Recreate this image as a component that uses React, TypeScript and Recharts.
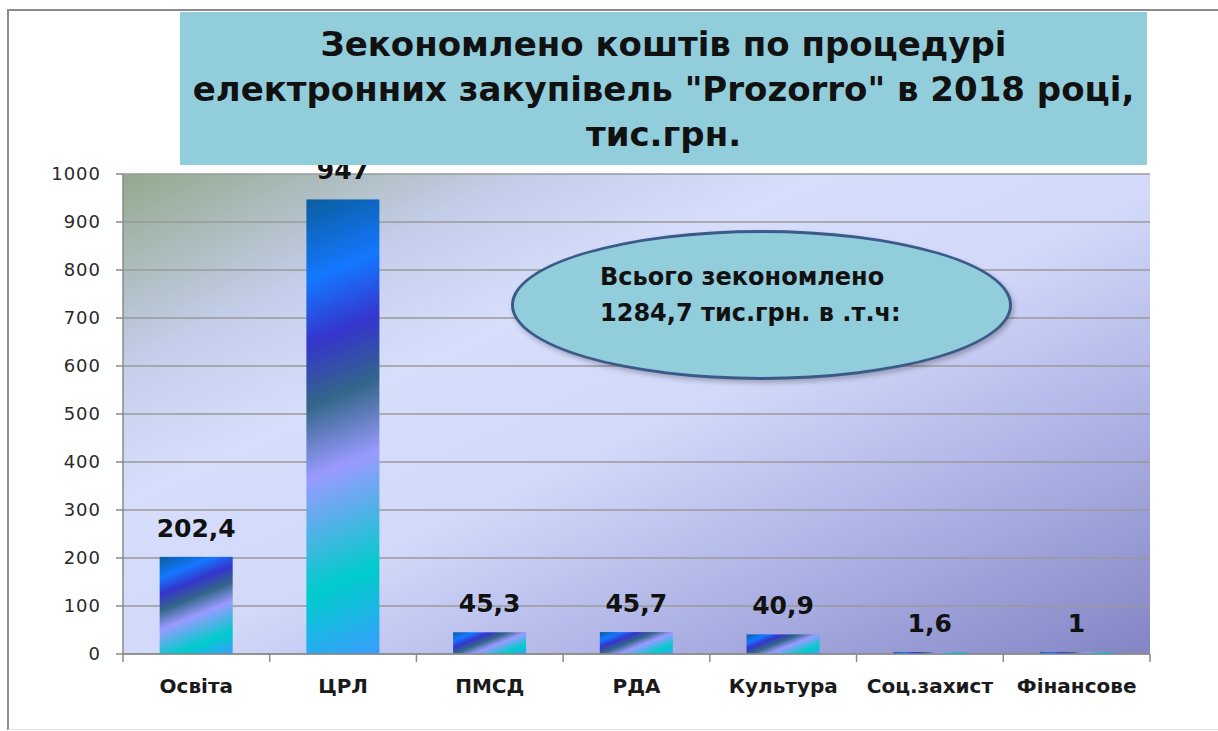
import React from 'react';
import { BarChart, Bar, XAxis, YAxis, CartesianGrid, LabelList } from 'recharts';

const categories = ['Освіта', 'ЦРЛ', 'ПМСД', 'РДА', 'Культура', 'Соц.захист', 'Фінансове'];
const savings = [202.4, 947, 45.3, 45.7, 40.9, 1.6, 1];
const yTicks = [0, 100, 200, 300, 400, 500, 600, 700, 800, 900, 1000];
const titleLines = [
  'Зекономлено коштів по процедурі',
  'електронних закупівель "Prozorro" в 2018 році,',
  'тис.грн.',
];
const noteLines = ['Всього зекономлено', '1284,7 тис.грн. в .т.ч:'];

const data = categories.map((name, i) => ({ name, value: savings[i] }));

const BAR_STOPS: [number, string][] = [
  [0, '#0A5E9E'],
  [0.17, '#1477FF'],
  [0.3, '#3535CC'],
  [0.43, '#33668A'],
  [0.58, '#9A9AFF'],
  [0.82, '#00CCCC'],
  [1, '#3A9CFF'],
];

const FONT = '"DejaVu Sans", sans-serif';

function GradientBar(props: any) {
  const { x, y, width, height, index } = props;
  if (!(width > 0) || !(height > 0)) return null;
  const dx = 0.371;
  const dy = 0.928;
  const L = width * dx + height * dy;
  const id = `barGrad${index}`;
  return (
    <g>
      <defs>
        <linearGradient id={id} gradientUnits="userSpaceOnUse" x1={x} y1={y} x2={x + dx * L} y2={y + dy * L}>
          {BAR_STOPS.map(([o, c]) => (
            <stop key={o} offset={o} stopColor={c} />
          ))}
        </linearGradient>
      </defs>
      <rect x={x} y={y} width={width} height={height} fill={`url(#${id})`} />
    </g>
  );
}

function CategoryTick(props: any) {
  const { x, y, payload, index } = props;
  const half = payload && typeof payload.offset === 'number' && payload.offset > 0 ? payload.offset : 73;
  const isLast = index === categories.length - 1;
  return (
    <g>
      <line x1={x - half} x2={x - half} y1={y} y2={y + 8} stroke="#8a8a8a" strokeWidth={1.5} />
      {isLast && <line x1={x + half} x2={x + half} y1={y} y2={y + 8} stroke="#8a8a8a" strokeWidth={1.5} />}
      <text x={x} y={y + 39} textAnchor="middle" fontFamily={FONT} fontWeight="bold" fontSize={20} fill="#1a1a1a">
        {payload.value}
      </text>
    </g>
  );
}

export default function App() {
  return (
    <div style={{ position: 'absolute', left: 0, top: 0, width: 1218, height: 731, overflow: 'hidden', background: '#fff' }}>
      <div
        style={{
          position: 'absolute',
          left: 7,
          top: 9,
          width: 1220,
          height: 718,
          borderTop: '2px solid #8c8c8c',
          borderLeft: '2px solid #8c8c8c',
          borderBottom: '1px solid #e2e2e2',
        }}
      />
      <div style={{ position: 'absolute', left: 0, top: 0 }}>
        <BarChart
          width={1218}
          height={731}
          data={data}
          margin={{ top: 174, right: 68, bottom: 0, left: 0 }}
          barCategoryGap="25%"
        >
          <defs>
            <linearGradient id="plotBg" x1="0" y1="0" x2="1" y2="1">
              <stop offset="0" stopColor="#93A98C" />
              <stop offset="0.2" stopColor="#C4CEEA" />
              <stop offset="0.34" stopColor="#D6DEFC" />
              <stop offset="0.52" stopColor="#D2D9F9" />
              <stop offset="0.75" stopColor="#ACB1E4" />
              <stop offset="1" stopColor="#8385C4" />
            </linearGradient>
          </defs>
          <CartesianGrid vertical={false} stroke="#9a9a9a" strokeWidth={1.3} fill="url(#plotBg)" fillOpacity={1} />
          <XAxis
            dataKey="name"
            height={77}
            interval={0}
            tickLine={false}
            tickSize={0}
            tickMargin={0}
            axisLine={{ stroke: '#8a8a8a', strokeWidth: 1.5 }}
            tick={<CategoryTick />}
          />
          <YAxis
            width={123}
            domain={[0, 1000]}
            ticks={yTicks}
            interval={0}
            tickSize={7}
            tickMargin={15}
            axisLine={{ stroke: '#8a8a8a', strokeWidth: 1.5 }}
            tickLine={{ stroke: '#8a8a8a', strokeWidth: 1.5 }}
            tick={{ fill: '#2a2a2a', fontSize: 18, fontFamily: FONT, letterSpacing: 1 }}
          />
          <Bar dataKey="value" isAnimationActive={false} minPointSize={2} shape={<GradientBar />}>
            <LabelList
              dataKey="value"
              position="top"
              offset={20}
              formatter={(v: any) => String(v).replace('.', ',')}
              style={{ fill: '#111', fontSize: 25, fontWeight: 'bold', fontFamily: FONT }}
            />
          </Bar>
        </BarChart>
      </div>
      <div
        style={{
          position: 'absolute',
          left: 180,
          top: 12,
          width: 967,
          height: 153,
          background: '#92CDDC',
          zIndex: 2,
          boxSizing: 'border-box',
          paddingTop: 10,
          textAlign: 'center',
          fontFamily: FONT,
          fontWeight: 'bold',
          fontSize: 34,
          lineHeight: '45px',
          color: '#111',
        }}
      >
        {titleLines.map((t) => (
          <div key={t}>{t}</div>
        ))}
      </div>
      <div
        style={{
          position: 'absolute',
          left: 511,
          top: 230,
          width: 501,
          height: 150,
          boxSizing: 'border-box',
          borderRadius: '50%',
          border: '3px solid #3B5A8A',
          background: '#92CDDC',
          boxShadow: '2px 3px 5px rgba(0,0,0,0.25)',
          zIndex: 2,
        }}
      >
        <div
          style={{
            position: 'absolute',
            left: 86,
            top: 26,
            fontFamily: FONT,
            fontWeight: 'bold',
            fontSize: 24,
            lineHeight: '36px',
            color: '#111',
            whiteSpace: 'nowrap',
          }}
        >
          {noteLines.map((t) => (
            <div key={t}>{t}</div>
          ))}
        </div>
      </div>
    </div>
  );
}
